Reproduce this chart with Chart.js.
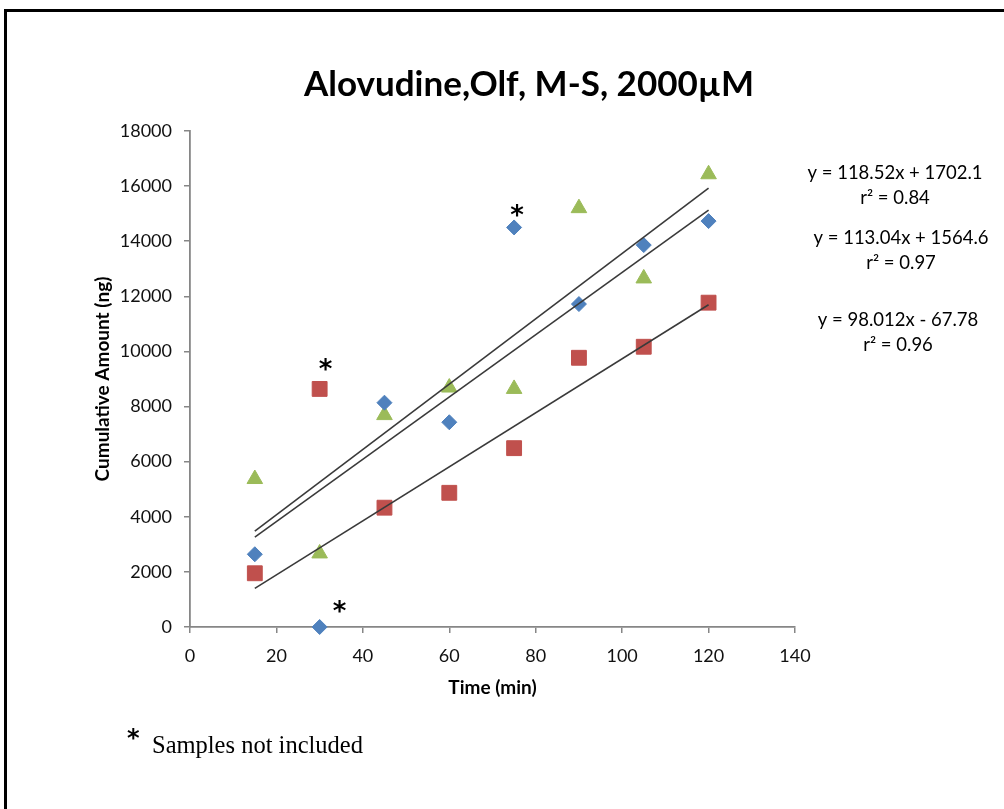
<!DOCTYPE html>
<html>
<head>
<meta charset="utf-8">
<title>Alovudine, Olf, M-S, 2000µM</title>
<script src="https://cdn.jsdelivr.net/npm/chart.js@4.4.1/dist/chart.umd.min.js"></script>
<style>
  html, body { margin: 0; padding: 0; background: #fff; overflow: hidden; }
  #wrap { position: relative; width: 1004px; height: 809px; overflow: hidden; }
  #frame { position: absolute; left: 4px; top: 9px; width: 1100px; height: 900px; border: 3px solid #000; }
  canvas { position: absolute; left: 0; top: 0; }
</style>
</head>
<body>
<div id="wrap">
  <div id="frame"></div>
  <canvas id="myChart" width="1004" height="809"></canvas>
</div>
<script>
const chartTitle = "Alovudine,Olf, M-S, 2000µM";
const xAxisTitle = "Time (min)";
const yAxisTitle = "Cumulative Amount (ng)";
const footnote = "Samples not included";

const timePoints = [15, 30, 45, 60, 75, 90, 105, 120];
const blueValues = [2640, 0, 8140, 7430, 14500, 11720, 13860, 14730];
const redValues = [1950, 8640, 4330, 4870, 6490, 9770, 10170, 11770];
const greenValues = [5370, 2670, 7690, 8690, 8640, 15200, 12650, 16430];

// linear fits, top to bottom line
const fitSlopes = [118.52, 113.04, 98.012];
const fitIntercepts = [1702.1, 1564.6, -67.78];
const fitR2 = ["0.84", "0.97", "0.96"];
const fitRange = [15, 120];

// samples left out of the fits
const excludedSeries = [0, 1, 0];
const excludedTimes = [75, 30, 30];

const xTicks = [0, 20, 40, 60, 80, 100, 120, 140];
const yTicks = [0, 2000, 4000, 6000, 8000, 10000, 12000, 14000, 16000, 18000];

const seriesValues = [blueValues, redValues, greenValues];
const seriesColors = ["#4F81BD", "#C0504D", "#9BBB59"];
const seriesShapes = ["rectRot", "rect", "triangle"];
const seriesRadius = [7.5, 10.5, 9];

const toPoints = (values) => timePoints.map((t, i) => ({ x: t, y: values[i] }));

const scatterSets = seriesValues.map((values, i) => ({
  type: "scatter",
  data: toPoints(values),
  pointStyle: seriesShapes[i],
  pointRadius: seriesRadius[i],
  pointHoverRadius: seriesRadius[i],
  backgroundColor: seriesColors[i],
  borderColor: seriesColors[i],
  borderWidth: 1,
  clip: false,
  order: 1,
}));

const fitSets = fitSlopes.map((slope, i) => ({
  type: "line",
  data: fitRange.map((t) => ({ x: t, y: slope * t + fitIntercepts[i] })),
  borderColor: "#3a3a3a",
  borderWidth: 1.6,
  pointRadius: 0,
  fill: false,
  order: 0,
}));

function equationText(i) {
  const b = fitIntercepts[i];
  return `y = ${fitSlopes[i]}x ${b < 0 ? "-" : "+"} ${Math.abs(b)}`;
}

// where each equation block sits (centre x, first line y)
const equationPos = [[895, 173], [901, 238], [898, 320]];
// asterisk offsets from the excluded sample, in pixels
const asteriskOffsets = [[3, -16], [6, -24], [20, -20]];

const annotations = {
  id: "annotations",
  afterDraw(chart) {
    const { ctx, scales: { x, y } } = chart;
    ctx.save();
    ctx.fillStyle = "#000";
    ctx.textAlign = "center";

    ctx.textBaseline = "alphabetic";
    ctx.font = "bold 35px Lato";
    ctx.fillText(chartTitle, 529, 96);

    ctx.textBaseline = "middle";
    ctx.font = "18.5px Lato";
    fitSlopes.forEach((s, i) => {
      const [cx, cy] = equationPos[i];
      ctx.fillText(equationText(i), cx, cy);
      ctx.fillText(`r² = ${fitR2[i]}`, cx, cy + 25);
    });

    ctx.font = "bold 26px 'DejaVu Sans'";
    excludedSeries.forEach((s, i) => {
      const t = excludedTimes[i];
      const v = seriesValues[s][timePoints.indexOf(t)];
      const [dx, dy] = asteriskOffsets[i];
      ctx.fillText("*", x.getPixelForValue(t) + dx, y.getPixelForValue(v) + dy + 6);
    });

    ctx.textAlign = "left";
    ctx.font = "bold 24px 'DejaVu Sans'";
    ctx.fillText("*", 127, 740);
    ctx.font = "24.5px 'Liberation Serif'";
    ctx.fillText(footnote, 152, 747);
    ctx.restore();
  },
};

const axisColor = "#868686";
const tickFont = { family: "Lato", size: 18 };
const plainNumber = (v) => String(v);

const ctx = document.getElementById("myChart").getContext("2d");
new Chart(ctx, {
  data: { datasets: [...fitSets, ...scatterSets] },
  options: {
    responsive: false,
    animation: false,
    events: [],
    layout: { padding: { left: 90, top: 131, right: 209, bottom: 109 } },
    plugins: { legend: { display: false }, tooltip: { enabled: false } },
    scales: {
      x: {
        type: "linear",
        min: 0,
        max: 140,
        afterFit: (scale) => { scale.height = 73; },
        afterBuildTicks: (scale) => { scale.ticks = xTicks.map((v) => ({ value: v })); },
        ticks: { font: tickFont, color: "#111", padding: 12, callback: plainNumber },
        grid: { drawOnChartArea: false, color: axisColor, tickLength: 6, lineWidth: 1.5 },
        border: { color: axisColor, width: 1.8 },
        title: {
          display: true, text: xAxisTitle, color: "#000",
          font: { family: "Lato", size: 19, weight: "bold" },
          padding: { top: 0, bottom: 1 },
        },
      },
      y: {
        type: "linear",
        min: 0,
        max: 18000,
        afterFit: (scale) => { scale.width = 100; },
        afterBuildTicks: (scale) => { scale.ticks = yTicks.map((v) => ({ value: v })); },
        ticks: { font: tickFont, color: "#111", padding: 12, callback: plainNumber },
        grid: { drawOnChartArea: false, color: axisColor, tickLength: 6, lineWidth: 1.5 },
        border: { color: axisColor, width: 1.8 },
        title: {
          display: true, text: yAxisTitle, color: "#000",
          font: { family: "Lato", size: 19, weight: "bold" },
          padding: { top: 1, bottom: 0 },
        },
      },
    },
  },
  plugins: [annotations],
});
</script>
</body>
</html>
